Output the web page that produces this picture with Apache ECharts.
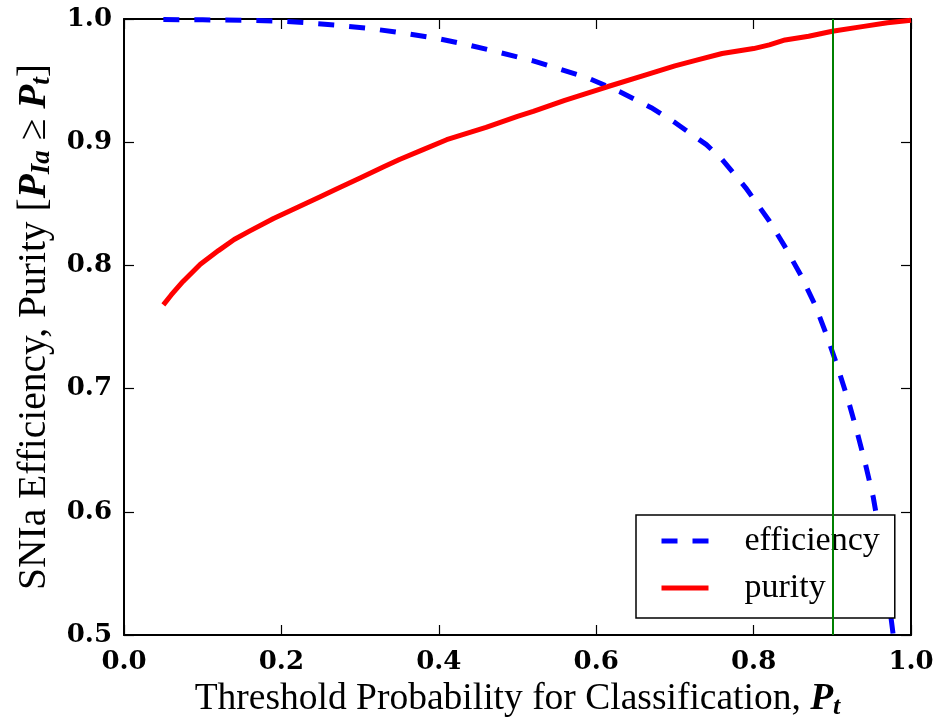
<!DOCTYPE html>
<html>
<head>
<meta charset="utf-8">
<script src="https://cdn.jsdelivr.net/npm/echarts@6/dist/echarts.min.js"></script>
<style>html,body{margin:0;padding:0;background:#fff}#chart{width:941px;height:723px}</style>
</head>
<body>
<div id="chart"></div>
<script>
// ---- data ----
const purityX = [0.05,0.06,0.075,0.097,0.12,0.14,0.16,0.19,0.22,0.25,0.27,0.30,0.33,0.35,0.38,0.41,0.46,0.50,0.52,0.56,0.60,0.614,0.66,0.70,0.73,0.76,0.80,0.82,0.84,0.87,0.90,0.94,0.97,1.0];
const purity  = [0.768,0.776,0.787,0.801,0.812,0.821,0.828,0.838,0.847,0.856,0.862,0.871,0.880,0.886,0.894,0.902,0.912,0.921,0.925,0.934,0.942,0.945,0.954,0.962,0.967,0.972,0.976,0.979,0.983,0.986,0.990,0.994,0.997,0.999];
const effX = [0.05,0.10,0.15,0.20,0.23,0.27,0.31,0.35,0.40,0.43,0.47,0.52,0.55,0.59,0.63,0.67,0.70,0.74,0.76,0.79,0.82,0.84,0.86,0.878,0.893,0.907,0.92,0.931,0.942,0.952,0.962,0.97,0.977,0.985];
const efficiency = [0.9995,0.9993,0.999,0.9982,0.997,0.995,0.9925,0.989,0.984,0.980,0.974,0.966,0.960,0.952,0.941,0.928,0.916,0.898,0.886,0.863,0.836,0.815,0.792,0.768,0.743,0.717,0.691,0.666,0.639,0.612,0.575,0.537,0.502,0.46];
const thresholdCut = 0.9;
const xTicks = {min: 0, max: 1, interval: 0.2};
const yTicks = {min: 0.5, max: 1.0, interval: 0.1};
const seriesNames = ['efficiency', 'purity'];

const serif = 'Liberation Serif';
const tickFont = {fontFamily: 'DejaVu Serif', fontWeight: 'bold', fontSize: 26, color: '#000'};
function richText(size, sub) {
  return {
    t: {fontFamily: serif, fontSize: size, lineHeight: 42, color: '#000', verticalAlign: 'middle'},
    m: {fontFamily: serif, fontSize: size, lineHeight: 42, color: '#000', fontStyle: 'italic', fontWeight: 'bold', verticalAlign: 'middle'},
    s: {fontFamily: serif, fontSize: sub, lineHeight: 21, color: '#000', fontStyle: 'italic', fontWeight: 'bold', verticalAlign: 'bottom'}
  };
}

const axisLine = {show: true, onZero: false, lineStyle: {color: '#000', width: 2}};
const tick = {show: true, inside: true, length: 10, lineStyle: {color: '#000', width: 1.2}};

const chart = echarts.init(document.getElementById('chart'), null, {renderer: 'canvas'});
chart.setOption({
  animation: false,
  grid: {left: 124, right: 30, top: 19, bottom: 88, containLabel: false, outerBoundsMode: 'none'},
  xAxis: [{
    type: 'value', min: xTicks.min, max: xTicks.max, interval: xTicks.interval, position: 'bottom',
    axisLine, axisTick: tick, splitLine: {show: false},
    axisLabel: Object.assign({margin: 14, formatter: v => v.toFixed(1)}, tickFont),
    name: '{t|Threshold Probability for Classification, }{m|P}{s|t}',
    nameLocation: 'middle', nameGap: 42,
    nameTextStyle: {rich: richText(37.5, 26)}
  }, {
    type: 'value', min: xTicks.min, max: xTicks.max, interval: xTicks.interval, position: 'top',
    axisLine, axisTick: tick, splitLine: {show: false}, axisLabel: {show: false}
  }],
  yAxis: [{
    type: 'value', min: yTicks.min, max: yTicks.max, interval: yTicks.interval, position: 'left',
    axisLine, axisTick: tick, splitLine: {show: false},
    axisLabel: Object.assign({margin: 12, formatter: v => v.toFixed(1)}, tickFont),
    name: '{t|SNIa Efficiency, Purity [}{m|P}{s|Ia}{t| ≥ }{m|P}{s|t}{t|]}',
    nameLocation: 'middle', nameGap: 68, nameRotate: 90,
    nameTextStyle: {rich: richText(39.5, 27)}
  }, {
    type: 'value', min: yTicks.min, max: yTicks.max, interval: yTicks.interval, position: 'right',
    axisLine, axisTick: tick, splitLine: {show: false}, axisLabel: {show: false}
  }],
  legend: {
    orient: 'vertical', left: 636, top: 515,
    data: seriesNames,
    backgroundColor: '#fff', borderColor: '#000', borderWidth: 1.5, borderRadius: 0,
    padding: [6, 15, 10, 23], itemGap: 7, itemWidth: 47, itemHeight: 14,
    itemStyle: {opacity: 0, borderWidth: 0},
    lineStyle: {width: 5, type: 'inherit', color: 'inherit'},
    textStyle: {fontFamily: serif, fontSize: 34, lineHeight: 40, color: '#000', padding: [0, 0, 0, 31]}
  },
  series: [{
    name: seriesNames[0], type: 'line', symbol: 'none', showSymbol: false,
    data: effX.map((x, i) => [x, efficiency[i]]),
    lineStyle: {color: '#0000ff', width: 5, type: [16, 15], cap: 'butt'},
    itemStyle: {color: '#0000ff'},
    markLine: {
      silent: true, symbol: ['none', 'none'], label: {show: false},
      lineStyle: {color: '#008000', width: 2, type: 'solid'},
      data: [{xAxis: thresholdCut}]
    },
    z: 2
  }, {
    name: seriesNames[1], type: 'line', symbol: 'none', showSymbol: false,
    data: purityX.map((x, i) => [x, purity[i]]),
    lineStyle: {color: '#ff0000', width: 5, join: 'round'},
    itemStyle: {color: '#ff0000'},
    z: 3
  }]
});
</script>
</body>
</html>
